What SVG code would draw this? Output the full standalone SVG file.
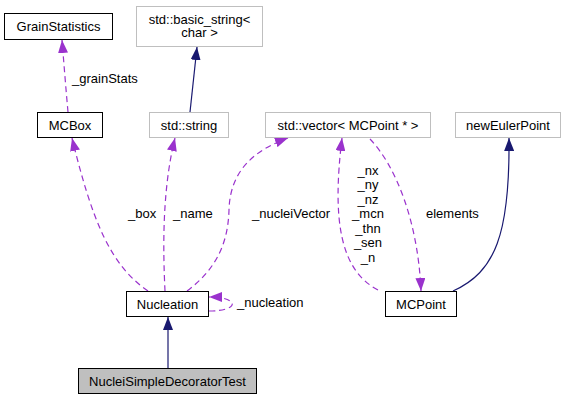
<svg xmlns="http://www.w3.org/2000/svg" width="565" height="400" viewBox="0 0 565 400">
<style>
text{font-family:"Liberation Sans",Arial,sans-serif;font-size:13px;fill:#000}
.c{text-anchor:middle}
.nb{fill:#fff;stroke:#000;stroke-width:1}
.ng{fill:#fff;stroke:#bfbfbf;stroke-width:1}
.nf{fill:#bfbfbf;stroke:#000;stroke-width:1}
.dp{fill:none;stroke:#9a32cd;stroke-width:1.2;stroke-dasharray:6,4;marker-end:url(#ap)}
.sn{fill:none;stroke:#191970;stroke-width:1.2;marker-end:url(#an)}
</style>
<defs>
<marker id="ap" markerUnits="userSpaceOnUse" markerWidth="13" markerHeight="10" refX="13" refY="5" orient="auto" viewBox="0 0 13 10"><path d="M0,0 L13,5 L0,10 z" fill="#9a32cd"/></marker>
<marker id="an" markerUnits="userSpaceOnUse" markerWidth="13" markerHeight="10" refX="13" refY="5" orient="auto" viewBox="0 0 13 10"><path d="M0,0 L13,5 L0,10 z" fill="#191970"/></marker>
</defs>
<g id="connectors">
<path class="dp" d="M68,112 C66,90 64,65 62,40"/>
<path class="sn" d="M190,112 L197,47"/>
<path class="dp" d="M148,291 C110,265 92,220 72,138"/>
<path class="dp" d="M165,291 C163,250 162,190 175,138"/>
<path class="dp" d="M187,291 C215,270 228,245 229,210 C230,170 255,150 288,138"/>
<path class="dp" d="M209,311 C240,311 240,297 209,297"/>
<path class="sn" d="M168,368 L168,317"/>
<path class="dp" d="M378,290 C340,270 332,220 342,138"/>
<path class="dp" d="M370,139 C395,165 418,220 421,291"/>
<path class="sn" d="M453,291 C495,272 510,235 509,138"/>
<text x="72" y="83">_grainStats</text>
<text x="128" y="218">_box</text>
<text x="173" y="218">_name</text>
<text x="252" y="218">_nucleiVector</text>
<text x="237" y="307">_nucleation</text>
<text class="c" x="368" y="174.5">_nx</text>
<text class="c" x="368" y="189">_ny</text>
<text class="c" x="368" y="203.5">_nz</text>
<text class="c" x="368" y="218">_mcn</text>
<text class="c" x="368" y="232.5">_thn</text>
<text class="c" x="368" y="247">_sen</text>
<text class="c" x="368" y="261.5">_n</text>
<text x="426" y="218">elements</text>
</g>
<g id="GrainStatistics"><rect class="nb" x="4.5" y="13.5" width="108" height="26"/><text class="c" x="58.5" y="31">GrainStatistics</text></g>
<g id="basic_string"><rect class="ng" x="136.5" y="6.5" width="126" height="40"/><text class="c" x="199.5" y="23.5">std::basic_string&lt;</text><text class="c" x="199.5" y="37">char &gt;</text></g>
<g id="MCBox"><rect class="nb" x="37.5" y="112.5" width="65" height="25"/><text class="c" x="70" y="129.5">MCBox</text></g>
<g id="std_string"><rect class="ng" x="149.5" y="112.5" width="79" height="25"/><text class="c" x="189" y="129.5">std::string</text></g>
<g id="std_vector"><rect class="ng" x="265.5" y="112.5" width="165" height="25"/><text class="c" x="348" y="129.5">std::vector&lt; MCPoint * &gt;</text></g>
<g id="newEulerPoint"><rect class="ng" x="455.5" y="112.5" width="105" height="25"/><text class="c" x="508" y="129.5">newEulerPoint</text></g>
<g id="Nucleation"><rect class="nb" x="126.5" y="291.5" width="82" height="25"/><text class="c" x="167.5" y="308.5">Nucleation</text></g>
<g id="NucleiSimpleDecoratorTest"><rect class="nf" x="78.5" y="368.5" width="178" height="25"/><text class="c" x="167.5" y="385.5">NucleiSimpleDecoratorTest</text></g>
<g id="MCPoint"><rect class="nb" x="385.5" y="291.5" width="71" height="25"/><text class="c" x="421" y="308.5">MCPoint</text></g>
</svg>
